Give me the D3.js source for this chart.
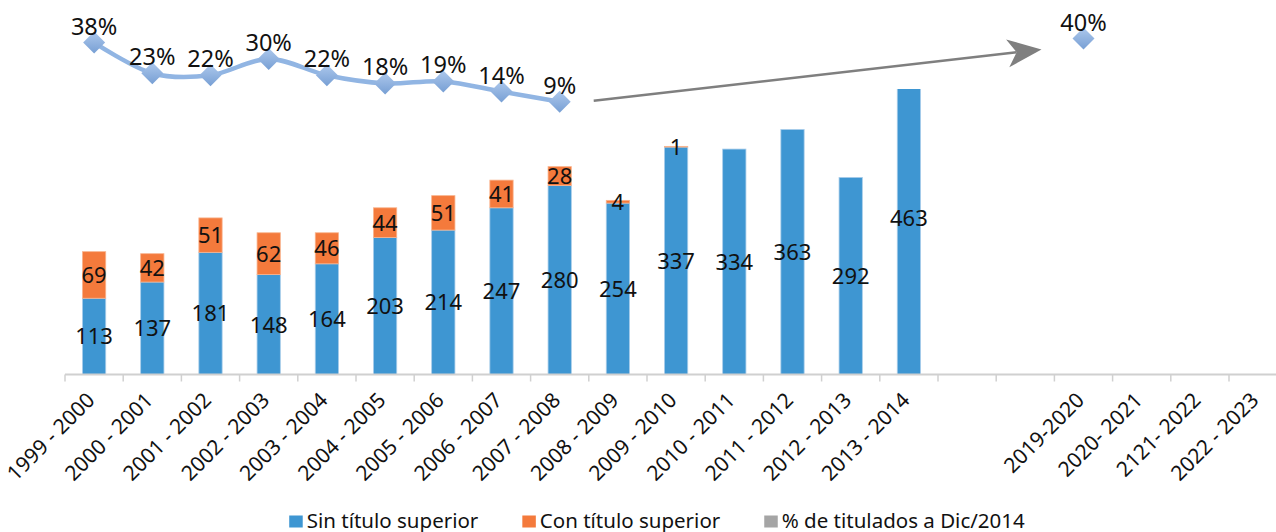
<!DOCTYPE html>
<html lang="es">
<head>
<meta charset="utf-8">
<script src="https://d3js.org/d3.v7.min.js"></script>
<style>
  body { margin: 0; background: #fff; }
  text { font-family: "Noto Sans", "Open Sans", sans-serif; fill: #111; }
</style>
</head>
<body>
<div id="my_dataviz"></div>

<script>

// categories (two empty slots before the projection years)
var categories = ["1999 - 2000", "2000 - 2001", "2001 - 2002", "2002 - 2003", "2003 - 2004",
  "2004 - 2005", "2005 - 2006", "2006 - 2007", "2007 - 2008", "2008 - 2009", "2009 - 2010",
  "2010 - 2011", "2011 - 2012", "2012 - 2013", "2013 - 2014", "", " ",
  "2019-2020", "2020- 2021", "2121- 2022", "2022 - 2023"];

// bar series
var sinTitulo = [113, 137, 181, 148, 164, 203, 214, 247, 280, 254, 337, 334, 363, 292, 463];
var conTitulo = [69, 42, 51, 62, 46, 44, 51, 41, 28, 4, 1, 0, 0, 0, 0];

// % de titulados (line) + target point
var pctTitulados = [38, 23, 22, 30, 22, 18, 19, 14, 9];
var pctMeta = { cat: "2019-2020", value: 40 };

var legendNames = ["Sin título superior", "Con título superior", "% de titulados a Dic/2014"];
var colors = ["#3e96d2", "#f47a3c", "#a5a5a5"];

var width = 1276, height = 532;

var svg = d3.select("#my_dataviz")
  .append("svg")
    .attr("width", width)
    .attr("height", height);

var defs = svg.append("defs");

// X axis
var x = d3.scaleBand()
  .domain(categories)
  .range([65, 65 + 58.2 * categories.length]);

var barW = x.bandwidth() * 0.4;

// Y axis (bars), plot top cuts the last bar
var y = d3.scaleLinear()
  .domain([0, 423])
  .range([374.5, 89]);

// Y for the line
var yL = d3.scaleLinear()
  .domain([0, 40])
  .range([120.2, 38.5]);

defs.append("clipPath").attr("id", "plotclip")
  .append("rect")
    .attr("x", 0).attr("y", y(423))
    .attr("width", width).attr("height", y(0) - y(423));

var stackData = sinTitulo.map(function(d, i) {
  return { cat: categories[i], sin: d, con: conTitulo[i] };
});

var bars = svg.append("g").attr("clip-path", "url(#plotclip)");

bars.selectAll("rect.sin")
  .data(stackData)
  .enter()
  .append("rect")
    .attr("class", "sin")
    .attr("x", function(d) { return x(d.cat) + (x.bandwidth() - barW) / 2; })
    .attr("y", function(d) { return y(d.sin); })
    .attr("width", barW)
    .attr("height", function(d) { return y(0) - y(d.sin); })
    .attr("fill", colors[0])
    .attr("stroke", "#a9cdea")
    .attr("stroke-width", 0.8);

bars.selectAll("rect.con")
  .data(stackData.filter(function(d) { return d.con > 0; }))
  .enter()
  .append("rect")
    .attr("class", "con")
    .attr("x", function(d) { return x(d.cat) + (x.bandwidth() - barW) / 2; })
    .attr("y", function(d) { return y(d.sin + d.con); })
    .attr("width", barW)
    .attr("height", function(d) { return y(d.sin) - y(d.sin + d.con); })
    .attr("fill", colors[1])
    .attr("stroke", "#f9b48e")
    .attr("stroke-width", 0.8);

// axis line + ticks
var axisG = svg.append("g")
  .attr("transform", "translate(0," + y(0) + ")");

axisG.append("line")
  .attr("x1", x.range()[0]).attr("x2", x.range()[1])
  .attr("stroke", "#d0d0d0").attr("stroke-width", 2);

axisG.selectAll("line.tick")
  .data(categories)
  .enter()
  .append("line")
    .attr("class", "tick")
    .attr("x1", function(d) { return x(d); })
    .attr("x2", function(d) { return x(d); })
    .attr("y1", 0).attr("y2", 7)
    .attr("stroke", "#d0d0d0").attr("stroke-width", 1.5);

svg.selectAll("text.xlab")
  .data(categories.filter(function(d) { return d.trim() !== ""; }))
  .enter()
  .append("text")
    .attr("class", "xlab")
    .attr("transform", function(d) {
      return "translate(" + (x(d) + x.bandwidth() / 2 + 2) + "," + (y(0) + 27) + ")rotate(-45)";
    })
    .style("text-anchor", "end")
    .style("font-size", "21px")
    .text(function(d) { return d; });

// bar labels
svg.selectAll("text.lsin")
  .data(stackData)
  .enter()
  .append("text")
    .attr("class", "lsin")
    .attr("x", function(d) { return x(d.cat) + x.bandwidth() / 2; })
    .attr("y", function(d) { return y(d.sin / 2) + 8; })
    .style("text-anchor", "middle")
    .style("font-size", "22px")
    .text(function(d) { return d.sin; });

svg.selectAll("text.lcon")
  .data(stackData.filter(function(d) { return d.con > 0; }))
  .enter()
  .append("text")
    .attr("class", "lcon")
    .attr("x", function(d) { return x(d.cat) + x.bandwidth() / 2; })
    .attr("y", function(d) { return y(d.sin + d.con / 2) + 8; })
    .style("text-anchor", "middle")
    .style("font-size", "22px")
    .text(function(d) { return d.con; });

// line
var lineData = pctTitulados.map(function(d, i) { return { cat: categories[i], value: d }; });
var cx = function(d) { return x(d.cat) + x.bandwidth() / 2; };

var grad = defs.append("linearGradient")
  .attr("id", "mgrad").attr("x1", 0).attr("y1", 0).attr("x2", 0).attr("y2", 1);
grad.append("stop").attr("offset", "0%").attr("stop-color", "#adc8ec");
grad.append("stop").attr("offset", "100%").attr("stop-color", "#779fd4");

svg.append("path")
  .datum(lineData)
  .attr("fill", "none")
  .attr("stroke", "#91b5e3")
  .attr("stroke-width", 4.5)
  .attr("stroke-linejoin", "round")
  .attr("d", d3.line()
    .x(cx)
    .y(function(d) { return yL(d.value); })
    .curve(d3.curveCardinal));

var allPts = lineData.concat([pctMeta]);
var diamond = "M0,-11L11,0L0,11L-11,0Z";

svg.selectAll("path.mk")
  .data(allPts)
  .enter()
  .append("path")
    .attr("class", "mk")
    .attr("transform", function(d) { return "translate(" + cx(d) + "," + yL(d.value) + ")"; })
    .attr("d", diamond)
    .attr("fill", "url(#mgrad)");

svg.selectAll("text.pct")
  .data(allPts)
  .enter()
  .append("text")
    .attr("class", "pct")
    .attr("x", cx)
    .attr("y", function(d) { return yL(d.value) - 8; })
    .style("text-anchor", "middle")
    .style("font-size", "23.5px")
    .text(function(d) { return d.value + "%"; });

// trend arrow from last point to the 2019-2020 target
var last = lineData[lineData.length - 1];
var ax0 = cx(last) + 34, ay0 = yL(last.value) - 1;
var ax1 = cx(pctMeta) - 42, ay1 = yL(pctMeta.value) + 11;
var ang = Math.atan2(ay1 - ay0, ax1 - ax0);
var rot = function(px, py) {
  return [ax1 + px * Math.cos(ang) - py * Math.sin(ang), ay1 + px * Math.sin(ang) + py * Math.cos(ang)];
};
var notch = rot(-25, 0);

svg.append("line")
  .attr("x1", ax0).attr("y1", ay0)
  .attr("x2", notch[0]).attr("y2", notch[1])
  .attr("stroke", "#7f7f7f").attr("stroke-width", 2.5);

svg.append("path")
  .attr("d", "M" + rot(0, 0) + "L" + rot(-34, -14) + "L" + notch + "L" + rot(-34, 14) + "Z")
  .attr("fill", "#7f7f7f");

// legend
var legend = svg.append("g");
var lx = 0;
legendNames.forEach(function(name, i) {
  var g = legend.append("g").attr("transform", "translate(" + lx + ",0)");
  g.append("rect")
    .attr("x", 0).attr("y", 515.5)
    .attr("width", 13.5).attr("height", 12)
    .attr("fill", colors[i]);
  var t = g.append("text")
    .attr("x", 17.5).attr("y", 527.5)
    .style("font-size", "20.5px")
    .text(name);
  lx += 17.5 + t.node().getComputedTextLength() + 44;
});
var legW = lx - 44;
legend.attr("transform", "translate(" + (657 - legW / 2) + ",0)");

</script>
</body>
</html>
